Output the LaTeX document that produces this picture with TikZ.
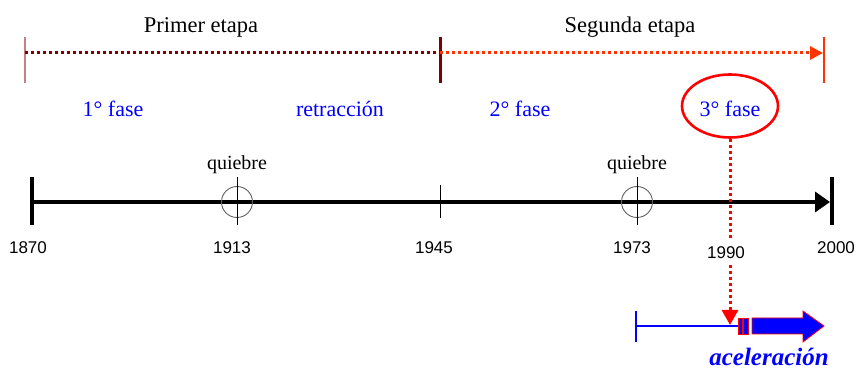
\documentclass[tikz,border=0pt]{standalone}
\usepackage{fontspec}
\setmainfont{Liberation Serif}
\newfontfamily\yearfont{Liberation Sans}
\usetikzlibrary{arrows.meta,shapes.geometric}
\definecolor{darkred}{RGB}{128,0,0}
\definecolor{pinkred}{RGB}{200,128,128}
\definecolor{orangered}{RGB}{255,51,0}
\definecolor{labelblue}{RGB}{0,0,255}
\definecolor{circgray}{RGB}{96,96,96}
\begin{document}
\begin{tikzpicture}[x=1pt,y=-1pt,
  stagetxt/.style={font=\fontsize{22.5}{26}\selectfont, anchor=base, inner sep=0pt},
  phasetxt/.style={font=\fontsize{22}{26}\selectfont, text=labelblue, anchor=base, inner sep=0pt},
  breaktxt/.style={font=\fontsize{20}{24}\selectfont, anchor=base, inner sep=0pt},
  yeartxt/.style={font=\yearfont\fontsize{17}{20}\selectfont, anchor=base, inner sep=0pt},
  dotline/.style={line width=3pt, dash pattern=on 3pt off 3pt},
  breakcirc/.style={circle, draw=circgray, line width=0.9pt, minimum size=31pt, inner sep=0pt},
]
\useasboundingbox (0,0) rectangle (857,371);

% ---- top stages ----
\node[stagetxt] (primer) at (201,33) {Primer etapa};
\node[stagetxt] (segunda) at (630,33) {Segunda etapa};

\coordinate (tL) at (25,53);
\coordinate (tM) at (440,53);
\coordinate (tR) at (823,53);
\draw[pinkred, line width=1.5pt] (25,37) -- (25,83);
\draw[darkred, line width=3pt] (440,37) -- (440,83);
\draw[orangered, line width=1.2pt] (824,37) -- (824,83);
\draw[darkred, dotline] (tL) -- (tM);
\draw[orangered, dotline, -{Triangle[length=13pt,width=13pt]}] (tM) -- (tR);

% ---- phases ----
\node[phasetxt] (f1) at (113,117) {1° fase};
\node[phasetxt] (retr) at (340,117) {retracción};
\node[phasetxt] (f2) at (520,117) {2° fase};
\node[ellipse, draw=red, line width=2.6pt, minimum width=96pt, minimum height=63pt, inner sep=0pt] (ell) at (730,106) {};
\node[phasetxt] (f3) at (730,117) {3° fase};

% ---- main timeline ----
\coordinate (a0) at (32,202);
\coordinate (a1) at (830,202);
\draw[line width=3.5pt] (32,177) -- (32,225);
\draw[line width=3.5pt] (832,177) -- (832,225);
\draw[line width=3.5pt, -{Triangle[length=15pt,width=20pt]}] (a0) -- (a1);
\draw[line width=0.9pt] (440,185) -- (440,218);

\node[breakcirc] (c1) at (237,202) {};
\draw[line width=0.9pt] (237,177) -- (237,225);
\node[breakcirc] (c2) at (637,202) {};
\draw[line width=0.9pt] (637,177) -- (637,225);
\node[breaktxt] (q1) at (237,170) {quiebre};
\node[breaktxt] (q2) at (637,170) {quiebre};

% ---- acceleration pointer ----
\coordinate (arrTip) at (730,325);
\draw[red, dotline, -{Triangle[length=15pt,width=16pt]}] (ell.south) -- (arrTip);

\node[yeartxt] (y1870) at (28,254) {1870};
\node[yeartxt] (y1913) at (232,254) {1913};
\node[yeartxt] (y1945) at (434,254) {1945};
\node[yeartxt] (y1973) at (632,254) {1973};
\node[yeartxt, fill=white, inner xsep=0pt, inner ysep=6pt] (y1990) at (726,259) {1990};
\node[yeartxt] (y2000) at (836,254) {2000};

\draw[labelblue, line width=1.5pt] (636,311) -- (636,342);
\draw[labelblue, line width=2pt] (636,326) -- (738,326);
\draw[red, fill=labelblue, line width=0.8pt] (738,318) rectangle (742.5,334);
\draw[red, fill=labelblue, line width=0.8pt] (743.5,318) rectangle (748,334);
\draw[red, fill=labelblue, line width=0.8pt]
  (752,318) -- (803,318) -- (803,311) -- (824,326) -- (803,342) -- (803,334) -- (752,334) -- cycle;
\node[font=\fontsize{25}{29}\selectfont\bfseries\itshape, text=labelblue, anchor=base, inner sep=0pt] (acel) at (769,366) {aceleración};
\end{tikzpicture}
\end{document}
